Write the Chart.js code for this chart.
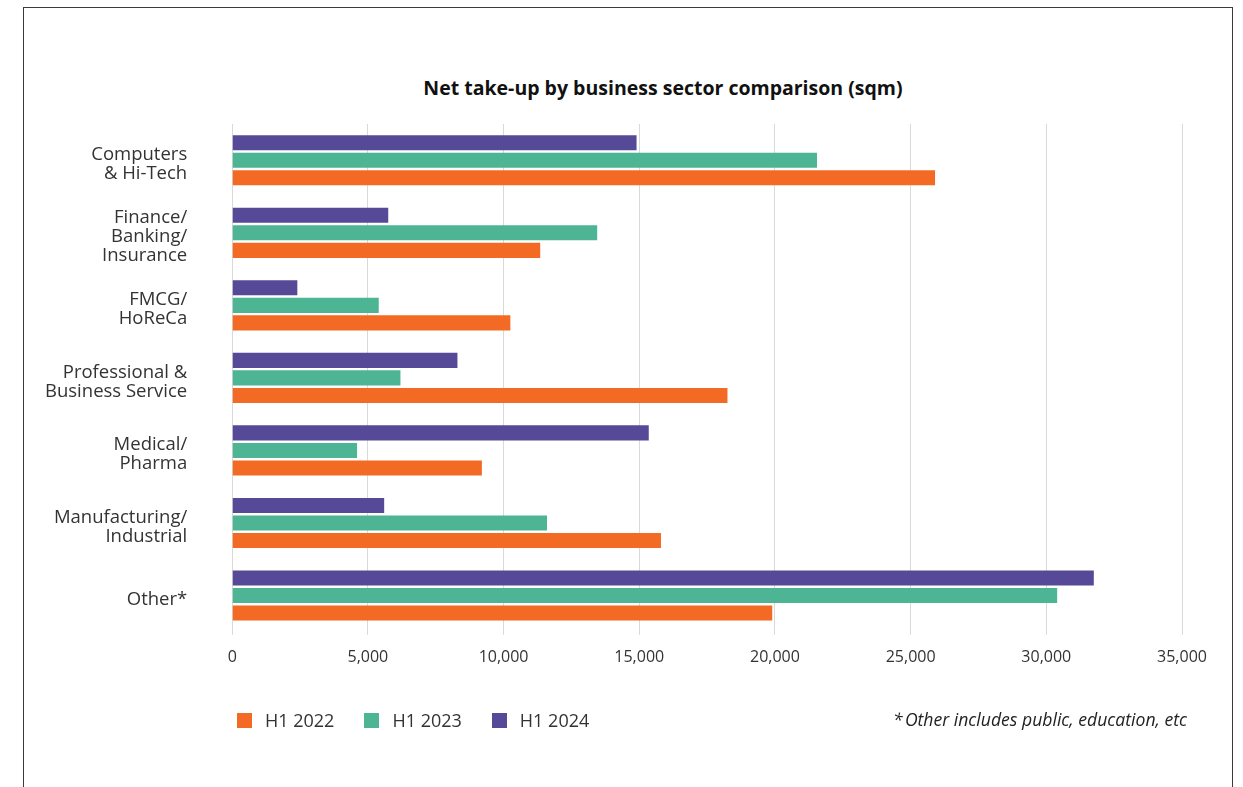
<!DOCTYPE html>
<html>
<head>
<meta charset="utf-8">
<script src="https://cdn.jsdelivr.net/npm/chart.js@4"></script>
<style>
  html, body { margin: 0; padding: 0; background: #fff; overflow: hidden; }
  body { width: 1243px; height: 787px; position: relative; font-family: "Open Sans", sans-serif; color: #262626; }
  #frame { position: absolute; left: 23px; top: 7px; width: 1210px; height: 820px; border: 1.5px solid #3a3a3a; box-sizing: border-box; }
  #chartWrap { position: absolute; left: 0; top: 0; width: 1243px; height: 787px; }
  #title { position: absolute; left: 0; width: 1326px; top: 74px; text-align: center; font-weight: 700; font-size: 19.5px; color: #111; }
  #legend { position: absolute; left: 237px; top: 708px; display: flex; font-size: 18px; color: #333; }
  .item { display: flex; align-items: center; margin-right: 30px; }
  .swatch { width: 15px; height: 15px; margin-right: 13px; }
  #note { position: absolute; right: 56px; top: 707px; font-style: italic; font-size: 17.6px; color: #222; }
</style>
</head>
<body>
<div id="frame"></div>
<div id="title">Net take-up by business sector comparison (sqm)</div>
<div id="chartWrap"><canvas id="sectorChart"></canvas></div>
<div id="legend"></div>
<div id="note">*&#8239;Other includes public, education, etc</div>
<script>
const sectors = [
    ['Computers', '& Hi-Tech'],
    ['Finance/', 'Banking/', 'Insurance'],
    ['FMCG/', 'HoReCa'],
    ['Professional &', 'Business Service'],
    ['Medical/', 'Pharma'],
    ['Manufacturing/', 'Industrial'],
    'Other*'
];
const h1_2022 = [25900, 11350, 10250, 18250, 9200, 15800, 19900];
const h1_2023 = [21550, 13450, 5400, 6200, 4600, 11600, 30400];
const h1_2024 = [14900, 5750, 2400, 8300, 15350, 5600, 31750];
const xTicks = [0, 5000, 10000, 15000, 20000, 25000, 30000, 35000];

const colors = {
    h22: '#f26a24',
    h23: '#4db594',
    h24: '#564a98'
};

// legend order is 2022 -> 2024, drawing order top to bottom is 2024 -> 2022
const legendItems = [
    { label: 'H1 2022', color: colors.h22 },
    { label: 'H1 2023', color: colors.h23 },
    { label: 'H1 2024', color: colors.h24 }
];
const legendEl = document.getElementById('legend');
legendItems.forEach(item => {
    const div = document.createElement('div');
    div.className = 'item';
    div.innerHTML = `<span class="swatch" style="background:${item.color}"></span><span>${item.label}</span>`;
    legendEl.appendChild(div);
});

const ctx = document.getElementById('sectorChart').getContext('2d');
const barStyle = { categoryPercentage: 0.725, barPercentage: 0.86, borderWidth: 0 };

new Chart(ctx, {
    type: 'bar',
    data: {
        labels: sectors,
        datasets: [
            { label: 'H1 2024', data: h1_2024, backgroundColor: colors.h24, ...barStyle },
            { label: 'H1 2023', data: h1_2023, backgroundColor: colors.h23, ...barStyle },
            { label: 'H1 2022', data: h1_2022, backgroundColor: colors.h22, ...barStyle }
        ]
    },
    options: {
        indexAxis: 'y',
        responsive: true,
        maintainAspectRatio: false,
        animation: false,
        layout: {
            padding: { left: 0, right: 61, top: 124, bottom: 107 }
        },
        scales: {
            x: {
                min: 0,
                max: 35000,
                afterBuildTicks: axis => {
                    axis.ticks = xTicks.map(v => ({ value: v }));
                },
                border: { display: false },
                grid: {
                    color: '#d9d9d9',
                    lineWidth: 1,
                    tickLength: 3
                },
                ticks: {
                    padding: 13,
                    color: '#333',
                    font: { family: 'Open Sans', size: 16 },
                    maxRotation: 0,
                    callback: v => v.toLocaleString('en-US')
                }
            },
            y: {
                border: { display: false },
                grid: { display: false, drawTicks: false },
                ticks: {
                    padding: 45,
                    labelOffset: 4,
                    color: '#333',
                    font: { family: 'Open Sans', size: 18.5, lineHeight: 1.03 }
                }
            }
        },
        plugins: {
            legend: { display: false },
            tooltip: { enabled: false },
            title: { display: false }
        }
    }
});
</script>
</body>
</html>
